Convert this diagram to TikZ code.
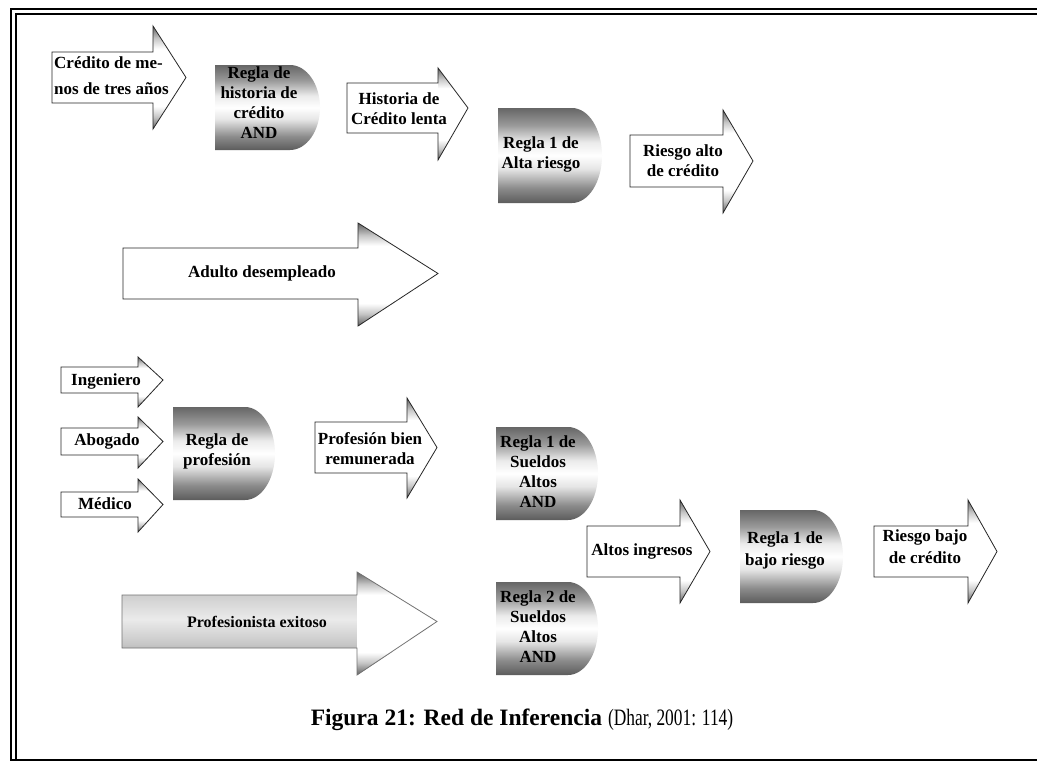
\documentclass[tikz,border=0pt]{standalone}
\usepackage{fontspec}
\setmainfont{Liberation Serif}
\newfontfamily\narrowserif[FakeStretch=0.74]{Liberation Serif}

% dark barbs at the top and bottom of an arrow head, white towards the middle
\pgfdeclareverticalshading{barbs}{100bp}{color(0bp)=(black!62); color(25bp)=(black!62);
  color(31bp)=(black!22); color(36bp)=(white); color(64bp)=(white);
  color(69bp)=(black!22); color(75bp)=(black!62); color(100bp)=(black!62)}
% rule blocks: dark top and bottom bands, light centre
\pgfdeclareverticalshading{rulegrad}{100bp}{color(0bp)=(black!64); color(25bp)=(black!64);
  color(33bp)=(black!45); color(43bp)=(black!10); color(50bp)=(white);
  color(57bp)=(black!8); color(66bp)=(black!40); color(75bp)=(black!60); color(100bp)=(black!60)}
% grey body of the "Profesionista exitoso" arrow
\pgfdeclareverticalshading{greyarrow}{100bp}{color(0bp)=(black!55); color(25bp)=(black!55);
  color(40bp)=(black!22); color(52bp)=(black!8); color(65bp)=(black!20);
  color(75bp)=(black!35); color(100bp)=(black!35)}

% block arrow: left, body top, body bottom, head x, head top, head bottom, tip x
\newcommand\arrowoutline[7]{(#1,#2) -- (#4,#2) -- (#4,#5) -- (#7,{(#2+#3)/2}) -- (#4,#6) -- (#4,#3) -- (#1,#3) -- cycle}
\newcommand\barrowhead[7]{(#4,#5) -- (#7,{(#2+#3)/2}) -- (#4,#6) -- cycle}
\newcommand\blockarrow[7]{%
  \fill[arrowfill] \arrowoutline{#1}{#2}{#3}{#4}{#5}{#6}{#7};
  \shade[barbfill] \barrowhead{#1}{#2}{#3}{#4}{#5}{#6}{#7};
  \draw[arrowline] \arrowoutline{#1}{#2}{#3}{#4}{#5}{#6}{#7};
}
% rule block: flat left side, half-elliptic right side (left, right, top, bottom)
\newcommand\rulepath[4]{(#1,#3) -- ({#2-30},#3) arc[start angle=-90, end angle=90, x radius=30, y radius={(#4-#3)/2}] -- (#1,#4) -- cycle}
\newcommand\ruleshape[4]{\shade[rulefill] \rulepath{#1}{#2}{#3}{#4};}

\begin{document}
\begin{tikzpicture}[x=1pt,y=-1pt,
  lbl/.style={inner sep=0pt, align=center, font=\bfseries\fontsize{17}{20}\selectfont},
  arrowfill/.style={fill=white},
  arrowline/.style={draw=black!85, line width=0.8pt, line join=miter},
  barbfill/.style={shading=barbs},
  rulefill/.style={shading=rulegrad},
  frameline/.style={draw=black, line width=2pt},
  frameinner/.style={draw=black, line width=1.4pt}]

\path[fill=white] (0,0) rectangle (1037,763);
\useasboundingbox (0,0) rectangle (1037,763);

% page frame
\draw[frameline] (1037,9) -- (11,9) -- (11,760) -- (1037,760);
\draw[frameinner] (1037,14) -- (16,14) -- (16,760);

% ---- credit history chain ----
\blockarrow{52}{52}{103}{153}{26}{129}{186}
\node[lbl, align=left, anchor=west, font=\bfseries\fontsize{17}{26}\selectfont] (cred) at (54,76) {Crédito de me-\\nos de tres años};

\ruleshape{215}{320}{65}{150}
\node[lbl] (rhist) at (259,103) {Regla de\\historia de\\crédito\\AND};

\blockarrow{347}{83}{133}{438}{68}{160}{468}
\node[lbl] (hist) at (399,109) {Historia de\\Crédito lenta};

\ruleshape{498}{602}{108}{203}
\node[lbl] (ralta) at (541,154) {Regla 1 de\\Alta riesgo};

\blockarrow{630}{135}{187}{723}{110}{213}{753}
\node[lbl] (altoriesgo) at (683,161) {Riesgo alto\\de crédito};

\blockarrow{123}{248}{299}{358}{223}{326}{438}
\node[lbl] (adulto) at (262,273) {Adulto desempleado};

% ---- profession chain ----
\blockarrow{61}{367}{393}{138}{357}{407}{163}
\node[lbl] (ing) at (106,381) {Ingeniero};
\blockarrow{61}{428}{455}{138}{417}{468}{163}
\node[lbl] (abo) at (107,441) {Abogado};
\blockarrow{61}{492}{517}{138}{479}{532}{163}
\node[lbl] (med) at (105,504) {Médico};

\ruleshape{173}{275}{407}{500}
\node[lbl] (rprof) at (217,451) {Regla de\\profesión};

\blockarrow{315}{422}{473}{407}{398}{498}{437}
\node[lbl] (profbien) at (370,449) {Profesión bien\\remunerada};

\ruleshape{496}{598}{427}{520}
\node[lbl] (sueldos1) at (538,472) {Regla 1 de\\Sueldos\\Altos\\AND};
\ruleshape{496}{598}{582}{675}
\node[lbl] (sueldos2) at (538,627) {Regla 2 de\\Sueldos\\Altos\\AND};

\blockarrow{587}{526}{577}{680}{500}{603}{710}
\node[lbl] (altosing) at (642,551) {Altos ingresos};

\ruleshape{740}{843}{510}{603}
\node[lbl, font=\bfseries\fontsize{17}{22}\selectfont] (rbajo) at (785,550) {Regla 1 de\\bajo riesgo};

\blockarrow{874}{526}{577}{968}{500}{603}{997}
\node[lbl, font=\bfseries\fontsize{17}{22}\selectfont] (bajoriesgo) at (925,547) {Riesgo bajo\\de crédito};

% grey arrow
\shade[shading=greyarrow] \arrowoutline{122}{595}{648}{357}{572}{675}{437};
\shade[barbfill] \barrowhead{122}{595}{648}{357}{572}{675}{437};
\draw[draw=black!55, line width=0.8pt] \arrowoutline{122}{595}{648}{357}{572}{675}{437};
\node[lbl, font=\bfseries\fontsize{16}{20}\selectfont] (profexit) at (257,622) {Profesionista exitoso};

% caption
\node[inner sep=0pt, anchor=base] (caption) at (522,725)
  {\fontsize{23.5}{28}\selectfont\textbf{Figura 21: Red de Inferencia} {\narrowserif (Dhar, 2001: 114)}};
\end{tikzpicture}
\end{document}
